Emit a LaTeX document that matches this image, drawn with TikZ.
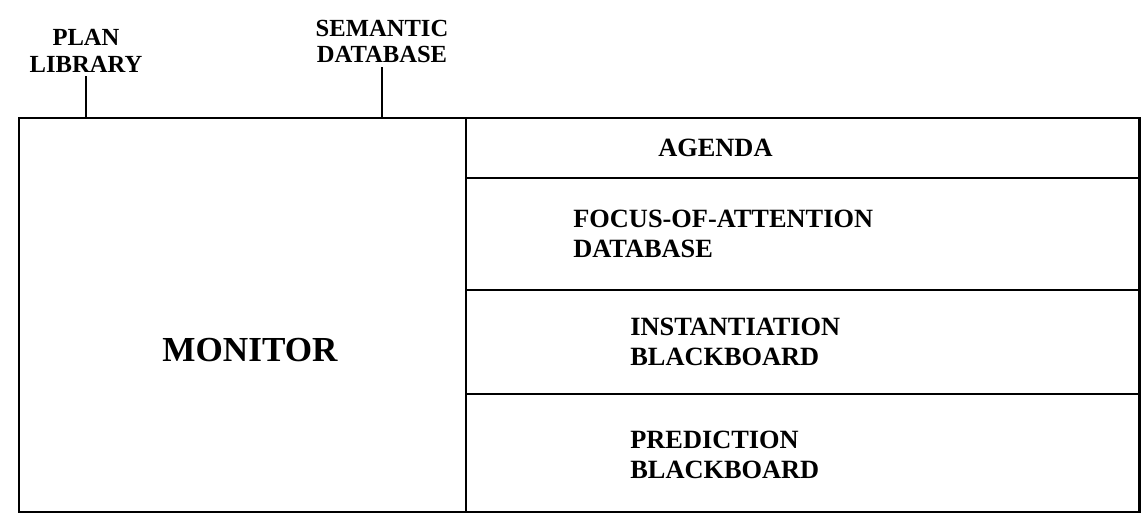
\documentclass[tikz,border=0pt]{standalone}
\usepackage{fontspec}
\setmainfont{Liberation Serif}
\usetikzlibrary{positioning}
\begin{document}
\begin{tikzpicture}
[ x=0.02cm, y=-0.02cm,
cell/.style={rectangle, draw=black, line width=1.5pt, inner sep=0pt,
 outer sep=0pt, anchor=north west},
tick/.style={draw=black, line width=1.5pt},
tag/.style={font=\bfseries\fontsize{14}{15}\selectfont, align=center,
 inner sep=2pt, anchor=south},
entry/.style={font=\bfseries\fontsize{15}{17}\selectfont, align=left,
 anchor=west, inner sep=0pt},
]
\useasboundingbox (0,0) rectangle (1145,529);

% left half
\node[cell, minimum width=8.94cm, minimum height=7.88cm] (monitor) at (19,118) {};
% right half, top to bottom
\node[cell, minimum width=13.48cm, minimum height=1.2cm] (agenda) at (monitor.north east) {};
\node[cell, minimum width=13.48cm, minimum height=2.24cm] (focus) at (agenda.south west) {};
\node[cell, minimum width=13.48cm, minimum height=2.08cm] (inst) at (focus.south west) {};
\node[cell, minimum width=13.48cm, minimum height=2.36cm] (pred) at (inst.south west) {};

% texts
\node[font=\bfseries\fontsize{20}{22}\selectfont] (monitortxt) at (250,350) {MONITOR};
\node[entry] (agendatxt) at (658,148) {AGENDA};
\node[entry] (focustxt) at (573,234) {FOCUS-OF-ATTENTION\\DATABASE};
\node[entry] (insttxt) at (630,342) {INSTANTIATION\\BLACKBOARD};
\node[entry] (predtxt) at (630,455) {PREDICTION\\BLACKBOARD};

% inputs on top
\node[tag] (plan) at (86,76) {PLAN\\LIBRARY};
\node[tag] (semantic) at (382,67) {SEMANTIC\\DATABASE};
\draw[tick] (plan.south) -- (plan.south |- monitor.north);
\draw[tick] (semantic.south) -- (semantic.south |- monitor.north);
\end{tikzpicture}
\end{document}
